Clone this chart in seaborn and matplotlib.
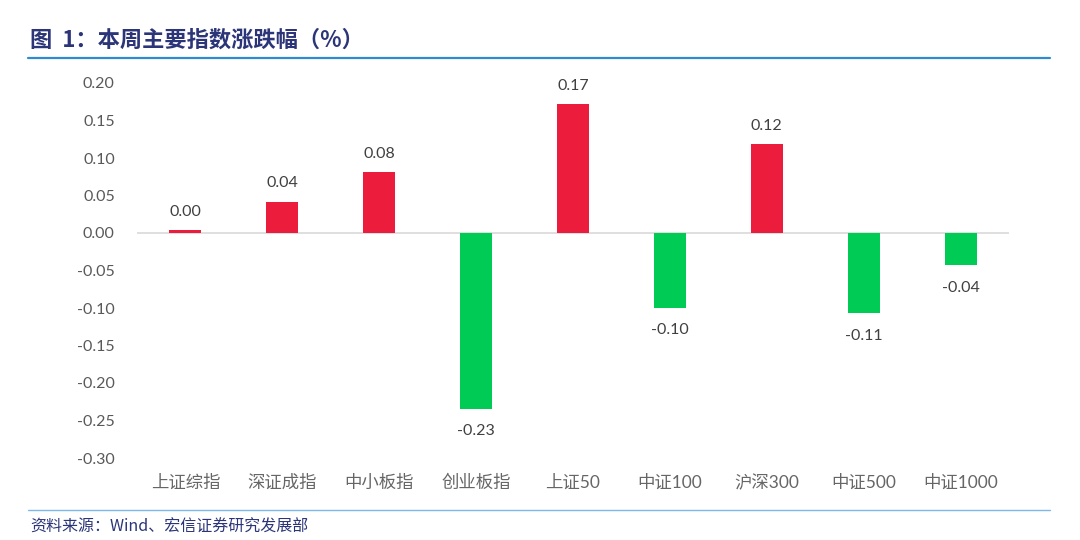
import matplotlib
matplotlib.use("Agg")
import matplotlib.pyplot as plt
import seaborn as sns
import pandas as pd
from matplotlib.lines import Line2D

categories = ["上证综指", "深证成指", "中小板指", "创业板指", "上证50", "中证100", "沪深300", "中证500", "中证1000"]
values = [0.004, 0.042, 0.081, -0.234, 0.172, -0.100, 0.119, -0.107, -0.043]
labels = ["0.00", "0.04", "0.08", "-0.23", "0.17", "-0.10", "0.12", "-0.11", "-0.04"]
yticks = [0.20, 0.15, 0.10, 0.05, 0.00, -0.05, -0.10, -0.15, -0.20, -0.25, -0.30]

RED = "#EC1C3C"
GREEN = "#00CC55"

sns.set_theme(style="white")
plt.rcParams["font.family"] = ["Lato", "Noto Sans CJK SC", "DejaVu Sans"]
plt.rcParams["axes.unicode_minus"] = False

df = pd.DataFrame({"cat": categories, "val": values})
colors = [RED if v >= 0 else GREEN for v in values]

fig = plt.figure(figsize=(10.8, 5.4), dpi=100)
ax = fig.add_axes([137 / 1080, 1 - 458 / 540, 872 / 1080, 375 / 540])

sns.barplot(data=df, x="cat", y="val", hue="cat", palette=colors, legend=False,
            width=0.33, ax=ax, saturation=1, linewidth=0)

ax.set_ylim(-0.30, 0.20)
ax.set_xlim(-0.5, len(categories) - 0.5)
ax.set_yticks(yticks)
ax.set_yticklabels([f"{t:.2f}" for t in yticks], fontsize=11.5, color="#595959",
                   family=["Lato", "DejaVu Sans"])
ax.set_xticks(range(len(categories)))
ax.set_xticklabels(categories, fontsize=12.5, color="#666666",
                   family=["Lato", "Noto Sans CJK SC"])
ax.tick_params(axis="y", length=0, pad=16)
ax.tick_params(axis="x", length=0, pad=12)
ax.set_xlabel("")
ax.set_ylabel("")
for s in ax.spines.values():
    s.set_visible(False)
ax.axhline(0, color="#D9D9D9", lw=1.2, zorder=0)

for i, (v, lab) in enumerate(zip(values, labels)):
    if v >= 0:
        ax.annotate(lab, (i, v), xytext=(0, 8), textcoords="offset points",
                    ha="center", va="bottom", fontsize=11.5, color="#404040")
    else:
        ax.annotate(lab, (i, v), xytext=(0, -11), textcoords="offset points",
                    ha="center", va="top", fontsize=11.5, color="#404040")

fig.text(30 / 1080, 1 - 40 / 540, "图  1：本周主要指数涨跌幅（%）", fontsize=16,
         fontweight="bold", color="#2B3578", va="center", ha="left",
         family=["Noto Sans CJK SC", "DejaVu Sans"])
fig.add_artist(Line2D([28 / 1080, 1050 / 1080], [1 - 58 / 540, 1 - 58 / 540],
                      color="#2E8BD0", lw=1.6, transform=fig.transFigure))
fig.add_artist(Line2D([28 / 1080, 1050 / 1080], [1 - 510 / 540, 1 - 510 / 540],
                      color="#7FB8E6", lw=1.0, transform=fig.transFigure))
fig.text(30 / 1080, 1 - 527 / 540, "资料来源：Wind、宏信证券研究发展部", fontsize=11.5,
         color="#2B3578", va="center", ha="left",
         family=["Noto Sans CJK SC", "DejaVu Sans"])

fig.savefig("out.png", dpi=100)
